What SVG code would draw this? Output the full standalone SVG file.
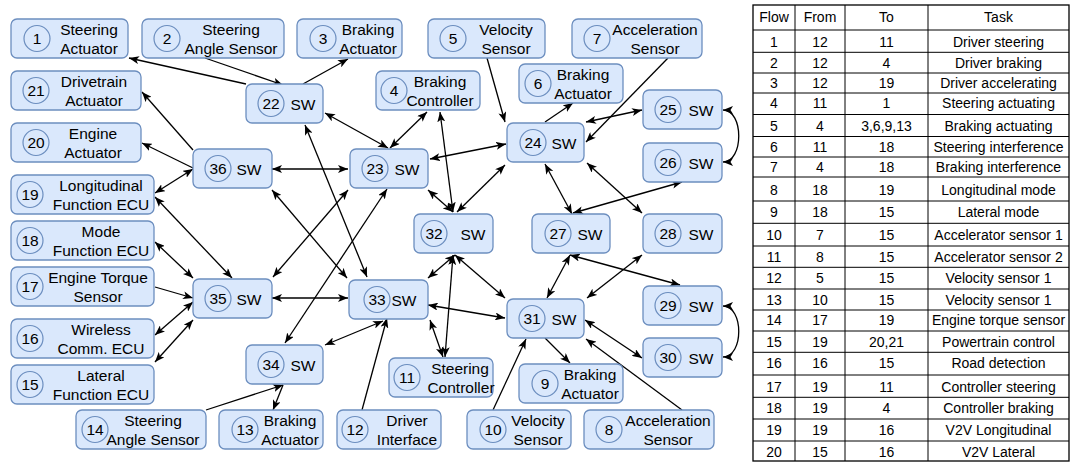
<svg xmlns="http://www.w3.org/2000/svg" width="1071" height="462" viewBox="0 0 1071 462">
  <defs>
    <marker id="arr" viewBox="0 0 10 8" markerWidth="10" markerHeight="8" refX="10" refY="4" markerUnits="userSpaceOnUse" orient="auto-start-reverse">
      <path d="M0,0 L10,4 L0,8 L2.5,4 z" fill="#000"/>
    </marker>
  </defs>
  <style>
    .box { fill: #dae8fc; stroke: #6c8ebf; stroke-width: 1.3; }
    .num { fill: #dae8fc; stroke: #6c8ebf; stroke-width: 1.2; }
    text { font-family: "Liberation Sans", Arial, sans-serif; fill: #000; }
    .lbl { font-size: 15.5px; text-anchor: middle; }
    .tb { font-size: 14px; text-anchor: middle; }
    .c { fill: none; stroke: #000; stroke-width: 1.3; }
    .one { marker-end: url(#arr); }
    .two { marker-start: url(#arr); marker-end: url(#arr); }
    .grid { stroke: #000; stroke-width: 1; fill: none; }
  </style>

  <!-- connectors -->
  <g id="connectors">
    <line class="c one" x1="246" y1="84" x2="129" y2="58"/>
    <line class="c one" x1="205" y1="58" x2="283" y2="85"/>
    <line class="c one" x1="303" y1="84" x2="348" y2="59"/>
    <line class="c one" x1="193" y1="150" x2="142" y2="92"/>
    <line class="c one" x1="193" y1="168" x2="142" y2="143"/>
    <line class="c two" x1="193" y1="169" x2="155" y2="193"/>
    <line class="c two" x1="325" y1="113" x2="388" y2="148"/>
    <line class="c two" x1="427" y1="112" x2="390" y2="148"/>
    <line class="c two" x1="440" y1="112" x2="453" y2="212"/>
    <line class="c two" x1="430" y1="159" x2="506" y2="144"/>
    <line class="c one" x1="487" y1="58" x2="505" y2="122"/>
    <line class="c one" x1="545" y1="122" x2="573" y2="103"/>
    <line class="c one" x1="668" y1="58" x2="586" y2="142"/>
    <line class="c two" x1="586" y1="122" x2="642" y2="110"/>
    <path class="c two" d="M723,110 C744,110 744,162 723,162"/>
    <line class="c two" x1="505" y1="165" x2="457" y2="212"/>
    <line class="c two" x1="428" y1="190" x2="453" y2="212"/>
    <line class="c two" x1="545" y1="164" x2="572" y2="214"/>
    <line class="c two" x1="573" y1="213" x2="682" y2="182"/>
    <line class="c two" x1="587" y1="163" x2="642" y2="213"/>
    <line class="c two" x1="455" y1="255" x2="428" y2="278"/>
    <line class="c two" x1="455" y1="255" x2="505" y2="298"/>
    <line class="c two" x1="570" y1="255" x2="547" y2="298"/>
    <line class="c two" x1="570" y1="255" x2="680" y2="285"/>
    <line class="c two" x1="642" y1="255" x2="587" y2="298"/>
    <line class="c two" x1="453" y1="255" x2="445" y2="357"/>
    <line class="c two" x1="430" y1="320" x2="443" y2="357"/>
    <line class="c two" x1="428" y1="305" x2="505" y2="318"/>
    <line class="c two" x1="585" y1="320" x2="642" y2="358"/>
    <line class="c one" x1="545" y1="338" x2="570" y2="363"/>
    <line class="c one" x1="493" y1="410" x2="526" y2="339"/>
    <line class="c one" x1="682" y1="410" x2="586" y2="339"/>
    <path class="c two" d="M723,306 C744,306 744,357 723,357"/>
    <line class="c one" x1="362" y1="410" x2="387" y2="318"/>
    <line class="c two" x1="383" y1="321" x2="325" y2="345"/>
    <line class="c two" x1="285" y1="343" x2="387" y2="189"/>
    <line class="c two" x1="273" y1="277" x2="348" y2="190"/>
    <line class="c two" x1="272" y1="190" x2="347" y2="278"/>
    <line class="c two" x1="305" y1="125" x2="367" y2="277"/>
    <line class="c two" x1="272" y1="169" x2="348" y2="169"/>
    <line class="c two" x1="272" y1="298" x2="348" y2="298"/>
    <line class="c two" x1="155" y1="197" x2="232" y2="278"/>
    <line class="c two" x1="155" y1="242" x2="193" y2="278"/>
    <line class="c one" x1="155" y1="287" x2="193" y2="298"/>
    <line class="c two" x1="155" y1="335" x2="193" y2="302"/>
    <line class="c two" x1="155" y1="362" x2="193" y2="320"/>
    <line class="c one" x1="206" y1="410" x2="283" y2="385"/>
    <line class="c one" x1="283" y1="385" x2="273" y2="410"/>
  </g>

  <!-- end devices -->
  <g id="n1"><rect class="box" x="11" y="19" width="117" height="39" rx="6"/><circle class="num" cx="37" cy="38.5" r="13"/><text class="lbl" x="37" y="44">1</text><text class="lbl" x="89" y="35">Steering</text><text class="lbl" x="89" y="53.5">Actuator</text></g>
  <g id="n2"><rect class="box" x="142" y="19" width="142" height="39" rx="6"/><circle class="num" cx="167" cy="38.5" r="13"/><text class="lbl" x="167" y="44">2</text><text class="lbl" x="231" y="35">Steering</text><text class="lbl" x="231" y="53.5">Angle Sensor</text></g>
  <g id="n3"><rect class="box" x="297" y="19" width="105" height="39" rx="6"/><circle class="num" cx="323" cy="38.5" r="13"/><text class="lbl" x="323" y="44">3</text><text class="lbl" x="368" y="35">Braking</text><text class="lbl" x="368" y="53.5">Actuator</text></g>
  <g id="n5"><rect class="box" x="428" y="19" width="117" height="39" rx="6"/><circle class="num" cx="453" cy="38.5" r="13"/><text class="lbl" x="453" y="44">5</text><text class="lbl" x="506" y="35">Velocity</text><text class="lbl" x="506" y="53.5">Sensor</text></g>
  <g id="n7"><rect class="box" x="572" y="19" width="130" height="39" rx="6"/><circle class="num" cx="597" cy="38.5" r="13"/><text class="lbl" x="597" y="44">7</text><text class="lbl" x="655" y="35">Acceleration</text><text class="lbl" x="655" y="53.5">Sensor</text></g>
  <g id="n21"><rect class="box" x="11" y="71" width="130" height="39" rx="6"/><circle class="num" cx="36" cy="90.5" r="13"/><text class="lbl" x="36" y="96">21</text><text class="lbl" x="94" y="87">Drivetrain</text><text class="lbl" x="94" y="105.5">Actuator</text></g>
  <g id="n4"><rect class="box" x="376" y="71" width="104" height="39" rx="6"/><circle class="num" cx="394" cy="90.5" r="13"/><text class="lbl" x="394" y="96">4</text><text class="lbl" x="440" y="87">Braking</text><text class="lbl" x="440" y="105.5">Controller</text></g>
  <g id="n6"><rect class="box" x="519" y="64" width="104" height="39" rx="6"/><circle class="num" cx="538" cy="83.5" r="13"/><text class="lbl" x="538" y="89">6</text><text class="lbl" x="583" y="80">Braking</text><text class="lbl" x="583" y="98.5">Actuator</text></g>
  <g id="n20"><rect class="box" x="11" y="123" width="130" height="39" rx="6"/><circle class="num" cx="36" cy="142.5" r="13"/><text class="lbl" x="36" y="148">20</text><text class="lbl" x="93" y="139">Engine</text><text class="lbl" x="93" y="157.5">Actuator</text></g>
  <g id="n19"><rect class="box" x="11" y="175" width="143" height="39" rx="6"/><circle class="num" cx="30" cy="194.5" r="13"/><text class="lbl" x="30" y="200">19</text><text class="lbl" x="101" y="191">Longitudinal</text><text class="lbl" x="101" y="209.5">Function ECU</text></g>
  <g id="n18"><rect class="box" x="11" y="221" width="143" height="39" rx="6"/><circle class="num" cx="30" cy="240.5" r="13"/><text class="lbl" x="30" y="246">18</text><text class="lbl" x="101" y="237">Mode</text><text class="lbl" x="101" y="255.5">Function ECU</text></g>
  <g id="n17"><rect class="box" x="11" y="267" width="143" height="39" rx="6"/><circle class="num" cx="30" cy="286.5" r="13"/><text class="lbl" x="30" y="292">17</text><text class="lbl" x="98" y="283">Engine Torque</text><text class="lbl" x="98" y="301.5">Sensor</text></g>
  <g id="n16"><rect class="box" x="11" y="319" width="143" height="39" rx="6"/><circle class="num" cx="30" cy="338.5" r="13"/><text class="lbl" x="30" y="344">16</text><text class="lbl" x="101" y="335">Wireless</text><text class="lbl" x="101" y="353.5">Comm. ECU</text></g>
  <g id="n15"><rect class="box" x="11" y="365" width="143" height="39" rx="6"/><circle class="num" cx="30" cy="384.5" r="13"/><text class="lbl" x="30" y="390">15</text><text class="lbl" x="101" y="381">Lateral</text><text class="lbl" x="101" y="399.5">Function ECU</text></g>
  <g id="n11"><rect class="box" x="389" y="358" width="104" height="39" rx="6"/><circle class="num" cx="407" cy="377.5" r="13"/><text class="lbl" x="407" y="383">11</text><text class="lbl" x="460" y="374">Steering</text><text class="lbl" x="461" y="392.5">Controller</text></g>
  <g id="n9"><rect class="box" x="519" y="364" width="104" height="39" rx="6"/><circle class="num" cx="545" cy="383.5" r="13"/><text class="lbl" x="545" y="389">9</text><text class="lbl" x="590" y="380">Braking</text><text class="lbl" x="590" y="398.5">Actuator</text></g>
  <g id="n14"><rect class="box" x="76" y="410" width="130" height="39" rx="6"/><circle class="num" cx="95" cy="429.5" r="13"/><text class="lbl" x="95" y="435">14</text><text class="lbl" x="153" y="426">Steering</text><text class="lbl" x="153" y="444.5">Angle Sensor</text></g>
  <g id="n13"><rect class="box" x="219" y="410" width="104" height="39" rx="6"/><circle class="num" cx="245" cy="429.5" r="13"/><text class="lbl" x="245" y="435">13</text><text class="lbl" x="290" y="426">Braking</text><text class="lbl" x="290" y="444.5">Actuator</text></g>
  <g id="n12"><rect class="box" x="337" y="410" width="104" height="39" rx="6"/><circle class="num" cx="355" cy="429.5" r="13"/><text class="lbl" x="355" y="435">12</text><text class="lbl" x="407" y="426">Driver</text><text class="lbl" x="407" y="444.5">Interface</text></g>
  <g id="n10"><rect class="box" x="467" y="410" width="104" height="39" rx="6"/><circle class="num" cx="493" cy="429.5" r="13"/><text class="lbl" x="493" y="435">10</text><text class="lbl" x="538" y="426">Velocity</text><text class="lbl" x="538" y="444.5">Sensor</text></g>
  <g id="n8"><rect class="box" x="584" y="410" width="130" height="39" rx="6"/><circle class="num" cx="609" cy="429.5" r="13"/><text class="lbl" x="609" y="435">8</text><text class="lbl" x="668" y="426">Acceleration</text><text class="lbl" x="668" y="444.5">Sensor</text></g>

  <!-- switches -->
  <g id="n22"><rect class="box" x="246" y="84" width="77" height="39" rx="6"/><circle class="num" cx="271" cy="103.5" r="13"/><text class="lbl" x="271" y="109">22</text><text class="lbl" x="303" y="109.5">SW</text></g>
  <g id="n24"><rect class="box" x="507" y="123" width="77" height="39" rx="6"/><circle class="num" cx="533" cy="142.5" r="13"/><text class="lbl" x="533" y="148">24</text><text class="lbl" x="564" y="148.5">SW</text></g>
  <g id="n25"><rect class="box" x="643" y="90" width="79" height="39" rx="6"/><circle class="num" cx="668" cy="109.5" r="13"/><text class="lbl" x="668" y="115">25</text><text class="lbl" x="701" y="115.5">SW</text></g>
  <g id="n26"><rect class="box" x="643" y="143" width="79" height="39" rx="6"/><circle class="num" cx="668" cy="162.5" r="13"/><text class="lbl" x="668" y="168">26</text><text class="lbl" x="701" y="168.5">SW</text></g>
  <g id="n36"><rect class="box" x="193" y="149" width="79" height="39" rx="6"/><circle class="num" cx="218" cy="168.5" r="13"/><text class="lbl" x="218" y="174">36</text><text class="lbl" x="249" y="174.5">SW</text></g>
  <g id="n23"><rect class="box" x="350" y="149" width="78" height="39" rx="6"/><circle class="num" cx="375" cy="168.5" r="13"/><text class="lbl" x="375" y="174">23</text><text class="lbl" x="407" y="174.5">SW</text></g>
  <g id="n32"><rect class="box" x="414" y="214" width="79" height="39" rx="6"/><circle class="num" cx="434" cy="233.5" r="13"/><text class="lbl" x="434" y="239">32</text><text class="lbl" x="473" y="239.5">SW</text></g>
  <g id="n27"><rect class="box" x="532" y="214" width="78" height="39" rx="6"/><circle class="num" cx="558" cy="233.5" r="13"/><text class="lbl" x="558" y="239">27</text><text class="lbl" x="590" y="239.5">SW</text></g>
  <g id="n28"><rect class="box" x="643" y="214" width="79" height="39" rx="6"/><circle class="num" cx="668" cy="233.5" r="13"/><text class="lbl" x="668" y="239">28</text><text class="lbl" x="701" y="239.5">SW</text></g>
  <g id="n35"><rect class="box" x="193" y="279" width="79" height="39" rx="6"/><circle class="num" cx="218" cy="298.5" r="13"/><text class="lbl" x="218" y="304">35</text><text class="lbl" x="249" y="304.5">SW</text></g>
  <g id="n33"><rect class="box" x="349" y="280" width="79" height="39" rx="6"/><circle class="num" cx="377" cy="299.5" r="13"/><text class="lbl" x="377" y="305">33</text><text class="lbl" x="404" y="305.5">SW</text></g>
  <g id="n29"><rect class="box" x="643" y="286" width="79" height="39" rx="6"/><circle class="num" cx="668" cy="305.5" r="13"/><text class="lbl" x="668" y="311">29</text><text class="lbl" x="701" y="311.5">SW</text></g>
  <g id="n31"><rect class="box" x="507" y="299" width="77" height="39" rx="6"/><circle class="num" cx="532" cy="318.5" r="13"/><text class="lbl" x="532" y="324">31</text><text class="lbl" x="564" y="324.5">SW</text></g>
  <g id="n30"><rect class="box" x="643" y="338" width="79" height="39" rx="6"/><circle class="num" cx="668" cy="357.5" r="13"/><text class="lbl" x="668" y="363">30</text><text class="lbl" x="701" y="363.5">SW</text></g>
  <g id="n34"><rect class="box" x="246" y="345" width="77" height="39" rx="6"/><circle class="num" cx="271" cy="364.5" r="13"/><text class="lbl" x="271" y="370">34</text><text class="lbl" x="303" y="370.5">SW</text></g>

  <!-- flow table -->
  <g id="flow-table">
    <rect class="grid" x="753" y="5" width="316" height="456" style="stroke-width:1.3"/>
    <path class="grid" d="M795,5 V461 M845,5 V461 M928,5 V461"/>
    <path class="grid" d="M753,30 H1069 M753,52.3 H1069 M753,73 H1069 M753,93 H1069 M753,114.5 H1069 M753,136.5 H1069 M753,157 H1069 M753,177 H1069 M753,201 H1069 M753,223.3 H1069 M753,246 H1069 M753,267.3 H1069 M753,289 H1069 M753,310 H1069 M753,331 H1069 M753,352.3 H1069 M753,375 H1069 M753,397.3 H1069 M753,419 H1069 M753,441 H1069"/>
    <g class="tb">
      <text class="tb" x="774" y="22">Flow</text><text class="tb" x="820" y="22">From</text><text class="tb" x="886.5" y="22">To</text><text class="tb" x="998.5" y="22">Task</text>
      <text class="tb" x="774" y="46.7">1</text><text class="tb" x="820" y="46.7">12</text><text class="tb" x="886.5" y="46.7">11</text><text class="tb" x="998.5" y="46.7">Driver steering</text>
      <text class="tb" x="774" y="68">2</text><text class="tb" x="820" y="68">12</text><text class="tb" x="886.5" y="68">4</text><text class="tb" x="998.5" y="68">Driver braking</text>
      <text class="tb" x="774" y="88">3</text><text class="tb" x="820" y="88">12</text><text class="tb" x="886.5" y="88">19</text><text class="tb" x="998.5" y="88">Driver accelerating</text>
      <text class="tb" x="774" y="108">4</text><text class="tb" x="820" y="108">11</text><text class="tb" x="886.5" y="108">1</text><text class="tb" x="998.5" y="108">Steering actuating</text>
      <text class="tb" x="774" y="131">5</text><text class="tb" x="820" y="131">4</text><text class="tb" x="886.5" y="131">3,6,9,13</text><text class="tb" x="998.5" y="131">Braking actuating</text>
      <text class="tb" x="774" y="152">6</text><text class="tb" x="820" y="152">11</text><text class="tb" x="886.5" y="152">18</text><text class="tb" x="998.5" y="152">Steering interference</text>
      <text class="tb" x="774" y="171.7">7</text><text class="tb" x="820" y="171.7">4</text><text class="tb" x="886.5" y="171.7">18</text><text class="tb" x="998.5" y="171.7">Braking interference</text>
      <text class="tb" x="774" y="195">8</text><text class="tb" x="820" y="195">18</text><text class="tb" x="886.5" y="195">19</text><text class="tb" x="998.5" y="195">Longitudinal mode</text>
      <text class="tb" x="774" y="216.7">9</text><text class="tb" x="820" y="216.7">18</text><text class="tb" x="886.5" y="216.7">15</text><text class="tb" x="998.5" y="216.7">Lateral mode</text>
      <text class="tb" x="774" y="240">10</text><text class="tb" x="820" y="240">7</text><text class="tb" x="886.5" y="240">15</text><text class="tb" x="998.5" y="240">Accelerator sensor 1</text>
      <text class="tb" x="774" y="261.7">11</text><text class="tb" x="820" y="261.7">8</text><text class="tb" x="886.5" y="261.7">15</text><text class="tb" x="998.5" y="261.7">Accelerator sensor 2</text>
      <text class="tb" x="774" y="283">12</text><text class="tb" x="820" y="283">5</text><text class="tb" x="886.5" y="283">15</text><text class="tb" x="998.5" y="283">Velocity sensor 1</text>
      <text class="tb" x="774" y="305">13</text><text class="tb" x="820" y="305">10</text><text class="tb" x="886.5" y="305">15</text><text class="tb" x="998.5" y="305">Velocity sensor 1</text>
      <text class="tb" x="774" y="325">14</text><text class="tb" x="820" y="325">17</text><text class="tb" x="886.5" y="325">19</text><text class="tb" x="998.5" y="325">Engine torque sensor</text>
      <text class="tb" x="774" y="346.7">15</text><text class="tb" x="820" y="346.7">19</text><text class="tb" x="886.5" y="346.7">20,21</text><text class="tb" x="998.5" y="346.7">Powertrain control</text>
      <text class="tb" x="774" y="368">16</text><text class="tb" x="820" y="368">16</text><text class="tb" x="886.5" y="368">15</text><text class="tb" x="998.5" y="368">Road detection</text>
      <text class="tb" x="774" y="391.7">17</text><text class="tb" x="820" y="391.7">19</text><text class="tb" x="886.5" y="391.7">11</text><text class="tb" x="998.5" y="391.7">Controller steering</text>
      <text class="tb" x="774" y="413">18</text><text class="tb" x="820" y="413">19</text><text class="tb" x="886.5" y="413">4</text><text class="tb" x="998.5" y="413">Controller braking</text>
      <text class="tb" x="774" y="435">19</text><text class="tb" x="820" y="435">19</text><text class="tb" x="886.5" y="435">16</text><text class="tb" x="998.5" y="435">V2V Longitudinal</text>
      <text class="tb" x="774" y="456.7">20</text><text class="tb" x="820" y="456.7">15</text><text class="tb" x="886.5" y="456.7">16</text><text class="tb" x="998.5" y="456.7">V2V Lateral</text>
    </g>
  </g>
</svg>
